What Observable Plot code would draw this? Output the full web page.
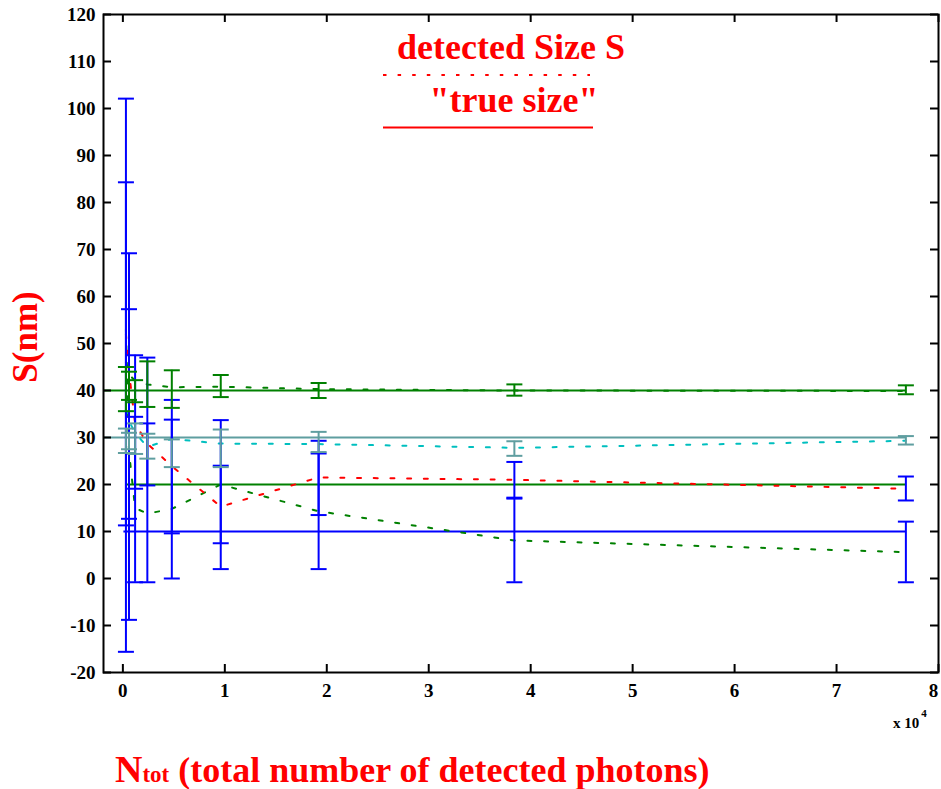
<!DOCTYPE html>
<html><head><meta charset="utf-8">
<script src="https://cdn.jsdelivr.net/npm/d3@7"></script>
<script src="https://cdn.jsdelivr.net/npm/@observablehq/plot@0.6"></script>
<style>body{margin:0;background:#fff;} svg{display:block}</style>
</head><body><div id="chart"></div>
<script>
// ---- data (x in units of 10^4 photons, S in nm) ----
const photons = [0.03, 0.06, 0.12, 0.24, 0.48, 0.96, 1.92, 3.84, 7.68];
const trueSizes = [10, 20, 30, 40];

// detected size S (dotted curves)
const det40 = [46, 43.5, 42.0, 41.3, 40.7, 40.8, 40.3, 40.0, 39.9];
const det30 = [36, 33.5, 31.0, 28.0, 29.7, 28.7, 28.6, 27.8, 29.3];
const det20 = [52, 44, 33, 28.7, 23.9, 15.3, 21.5, 21.0, 19.1];
const det10 = [53, 27, 15.0, 13.8, 14.8, 20.0, 14.3, 8.1, 5.6];

// error bar bounds
const lo40 = [35.6, 38.0, 37.5, 36.5, 36.3, 38.6, 38.4, 38.9, 39.2];
const hi40 = [45.0, 44.0, 42.2, 46.2, 44.3, 43.3, 41.6, 41.3, 41.1];
const lo30 = [26.7, 27.5, 26.5, 25.5, 23.7, 23.7, 26.9, 26.1, 28.5];
const hi30 = [31.9, 31.0, 33.0, 30.8, 29.6, 31.7, 31.2, 29.2, 30.3];
const lo20 = [11.3, 12.7, 19.1, 19.8, 9.6, 7.5, 13.5, 17.2, 16.6];
const hi20 = [84.3, 57.3, 34.4, 33.0, 38.0, 24.0, 29.3, 24.8, 21.7];
const lo10 = [-15.6, -8.8, -0.8, -0.8, 0.0, 2.0, 2.0, -0.8, -0.8];
const hi10 = [102.1, 69.2, 47.5, 47.0, 33.8, 33.7, 26.6, 17.0, 12.1];

// where each "true size" reference line starts
const trueStart = [0.01, 0.04, -0.19, -0.19];
const trueEnd = 7.68;

const xTicks = [0, 1, 2, 3, 4, 5, 6, 7, 8];
const yTicks = [-20, -10, 0, 10, 20, 30, 40, 50, 60, 70, 80, 90, 100, 110, 120];

// ---- styles ----
const BLUE = "#0000FF", GREEN = "#008000", TEAL = "#5F9EA0", CYAN = "#00BFBF", RED = "#FF0000";
const styleBySize = {
  10: {trueColor: BLUE, detColor: GREEN, barColor: BLUE},
  20: {trueColor: GREEN, detColor: RED, barColor: BLUE},
  30: {trueColor: TEAL, detColor: CYAN, barColor: TEAL},
  40: {trueColor: GREEN, detColor: GREEN, barColor: GREEN}
};
const detBySize = {10: det10, 20: det20, 30: det30, 40: det40};
const loBySize = {10: lo10, 20: lo20, 30: lo30, 40: lo40};
const hiBySize = {10: hi10, 20: hi20, 30: hi30, 40: hi40};

const W = 941, H = 789, ML = 103, MR = 3, MT = 14, MB = 117;
const FW = W - ML - MR, FH = H - MT - MB;
const xDomain = [-0.19, 8], yDomain = [-20, 120];
const FONT = "'Liberation Serif', 'Times New Roman', serif";

const capSymbol = {draw(ctx, size) { const r = Math.sqrt(size / Math.PI); ctx.moveTo(-r, 0); ctx.lineTo(r, 0); }};

const rowsFor = s => photons.map((x, i) => ({x, det: detBySize[s][i], lo: loBySize[s][i], hi: hiBySize[s][i]}));

const marks = [];
trueSizes.forEach((s, k) => {
  marks.push(Plot.ruleY([{y: s, x1: trueStart[k], x2: trueEnd}], {y: "y", x1: "x1", x2: "x2", stroke: styleBySize[s].trueColor, strokeWidth: 2}));
});
trueSizes.forEach(s => {
  marks.push(Plot.line(rowsFor(s), {x: "x", y: "det", stroke: styleBySize[s].detColor, strokeWidth: 2, strokeDasharray: "4,12.7"}));
});
[10, 20, 30, 40].forEach(s => {
  const rows = rowsFor(s), c = styleBySize[s].barColor;
  marks.push(Plot.ruleX(rows, {x: "x", y1: "lo", y2: "hi", stroke: c, strokeWidth: 2}));
  marks.push(Plot.dot(rows, {x: "x", y: "lo", r: 8, symbol: capSymbol, stroke: c, strokeWidth: 2, fill: "none"}));
  marks.push(Plot.dot(rows, {x: "x", y: "hi", r: 8, symbol: capSymbol, stroke: c, strokeWidth: 2, fill: "none"}));
});
marks.push(Plot.frame({stroke: "black", strokeWidth: 2}));
marks.push(Plot.tickY(yTicks, {insetRight: FW - 8, stroke: "black", strokeWidth: 2}));
marks.push(Plot.tickY(yTicks, {insetLeft: FW - 8, stroke: "black", strokeWidth: 2}));
marks.push(Plot.tickX(xTicks, {insetTop: FH - 8, stroke: "black", strokeWidth: 2}));
marks.push(Plot.tickX(xTicks, {insetBottom: FH - 8, stroke: "black", strokeWidth: 2}));
marks.push(Plot.axisY({ticks: yTicks, tickSize: 0, tickPadding: 8, tickFormat: d => String(d), fontSize: 19, fontWeight: "bold", label: null}));
marks.push(Plot.axisX({ticks: xTicks.slice(0, -1), tickSize: 0, tickPadding: 11, tickFormat: d => String(d), fontSize: 19, fontWeight: "bold", label: null}));
marks.push(Plot.axisX({ticks: xTicks.slice(-1), tickSize: 0, tickPadding: 11, dx: -5, tickFormat: d => String(d), fontSize: 19, fontWeight: "bold", label: null}));

const svg = Plot.plot({
  width: W, height: H,
  marginLeft: ML, marginRight: MR, marginTop: MT, marginBottom: MB,
  x: {domain: xDomain},
  y: {domain: yDomain},
  style: {fontFamily: FONT, background: "white", overflow: "visible"},
  marks
});
document.getElementById("chart").appendChild(svg);

// ---- annotations ----
const g = d3.select(svg).append("g").attr("font-family", FONT).attr("font-weight", "bold").attr("text-anchor", "start");
// legend
g.append("text").attr("x", 511).attr("y", 59).attr("text-anchor", "middle").attr("font-size", 36).attr("fill", RED).text("detected Size S");
g.append("line").attr("x1", 383).attr("x2", 590).attr("y1", 75).attr("y2", 75).attr("stroke", RED).attr("stroke-width", 2).attr("stroke-dasharray", "3.5,11.1");
g.append("text").attr("x", 514).attr("y", 112).attr("text-anchor", "middle").attr("font-size", 36).attr("fill", RED).text('"true size"');
g.append("line").attr("x1", 383).attr("x2", 593).attr("y1", 127.5).attr("y2", 127.5).attr("stroke", RED).attr("stroke-width", 2);
// y label
g.append("text").attr("transform", "translate(37,337) rotate(-90)").attr("text-anchor", "middle").attr("font-size", 35).attr("fill", RED).text("S(nm)");
// x label
const xl = g.append("text").attr("x", 115).attr("y", 782).attr("fill", RED);
xl.append("tspan").attr("font-size", 38).text("N");
xl.append("tspan").attr("font-size", 23).text("tot");
xl.append("tspan").attr("font-size", 36).text(" (total number of detected photons)");
// x multiplier
const xm = g.append("text").attr("x", 893).attr("y", 728).attr("fill", "black").attr("font-size", 15);
xm.append("tspan").text("x 10");
xm.append("tspan").attr("font-size", 11).attr("dy", -11).attr("dx", 2).text("4");
</script></body></html>
